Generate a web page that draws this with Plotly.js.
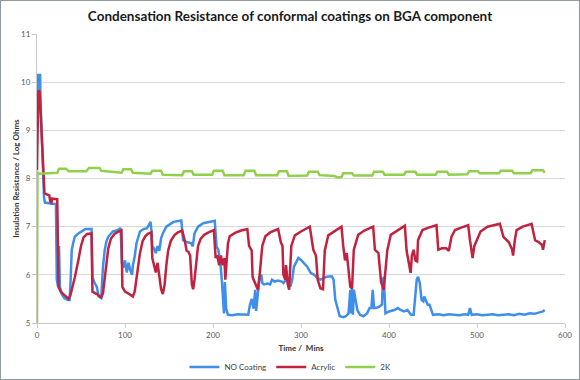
<!DOCTYPE html>
<html>
<head>
<meta charset="utf-8">
<script src="https://cdn.plot.ly/plotly-3.0.1.min.js"></script>
<style>
  html, body { margin: 0; padding: 0; background: #ffffff; }
  #wrap { position: relative; width: 580px; height: 380px; }
  #chart { width: 580px; height: 380px; }
  #frame { position: absolute; left: 0; top: 0; width: 580px; height: 380px; box-sizing: border-box;
           border: 1.5px solid #8e9b9e; pointer-events: none; }
</style>
</head>
<body>
<div id="wrap"><div id="chart"></div><div id="frame"></div></div>
<script>
// ---- data ----
const seriesNames = ["NO Coating", "Acrylic", "2K"];

const noCoatingTime = [0.5,1,3.5,4,8,9,15,21.5,22.5,24,25,26,28,31,35,37,38,39.5,41,43,47,51,55,62,63,65,68,70,73,75,77,79,81,86,92,95,96.5,98,100,102,104,106,108,109,111,113,117,121,125,127,129,130,131,133,135,137,139,141,143,147,155,164,166,170,175,177,179,183,189,202,204,206,208,210,211.5,212.5,213.5,215,217,222,228,234,240,242,244,246,248,249,251,253,255,256,258,262,265,267,270,274,278,280,283,286,288,290,292,297,300,304,307,311,315,319,322,326,329,335,337,339,342,344,348,351,354,356,357,358,359,360,362,364,367,371,375,378,380,381.5,383,385,389,392,393,394,396,400,406,410,413,417,421,425,428,430,431.5,433,435,437,439,440,442,444,446,448,450,456,462,468,474,480,486,490,492,494,500,506,512,518,524,530,536,542,548,554,560,565,570,575,577];
const noCoatingValue = [9.5,10.15,10.15,9.6,7.6,7.5,7.48,7.47,5.9,5.75,6.6,5.75,5.6,5.52,5.48,5.48,5.8,6.52,6.65,6.79,6.86,6.9,6.95,6.95,5.95,5.85,5.75,5.55,5.52,6.17,6.52,6.7,6.79,6.9,6.93,6.97,6.24,6.15,6.3,6.05,6.25,6.1,6.0,6.2,6.38,6.65,6.9,6.95,6.97,7.03,7.1,6.93,6.59,6.55,6.45,6.6,6.5,6.76,6.86,7.0,7.1,7.13,6.72,6.68,6.66,6.59,6.86,7.0,7.07,7.12,6.59,6.52,6.31,5.9,5.48,5.2,5.85,5.3,5.17,5.16,5.18,5.17,5.17,5.38,5.5,5.3,5.69,5.25,5.65,5.95,6.0,5.83,5.8,5.82,5.8,5.9,5.86,5.88,5.86,5.83,5.9,5.84,5.76,5.9,6.17,6.35,6.31,6.24,6.17,6.04,6.0,5.93,5.9,5.93,5.96,5.97,5.9,5.48,5.27,5.14,5.12,5.14,5.2,5.69,5.2,5.72,5.17,5.69,5.48,5.27,5.17,5.14,5.2,5.31,5.31,5.69,5.31,5.31,5.34,5.38,5.87,5.96,5.2,5.24,5.27,5.31,5.27,5.24,5.27,5.17,5.17,5.55,5.9,5.96,5.83,5.48,5.45,5.55,5.48,5.38,5.38,5.27,5.17,5.18,5.16,5.18,5.17,5.16,5.18,5.17,5.31,5.17,5.18,5.16,5.17,5.18,5.16,5.17,5.18,5.16,5.19,5.17,5.2,5.19,5.22,5.24,5.27];

const acrylicTime = [0,1.5,3,4,8.5,10,14,15,16.5,17,23,24.5,27,30,34,36,38,40,43,47,50,53,57,62,63,68,73,75,77,79,81,84,88,93,96,97,100,105,109,111,113,115,117,120,123,126,130,131,133,135,137,139,141,143,145,147,149,152,156,160,165,168,170,172,174,176,177.5,179,181,183,186,190,195,201,203,205,207,209,211,213,214,215,217,219,225,232,239,241,244,245,247,249,251,253,256,259.5,265,274,277,279,280,282,283,285,286.5,289,293,300,310,314,317,319,322,325,327,331,338,346,348,350,352,354,356,358,360,365,372,382,384,388,391,394,398,402,410,418,420,422,424.6,426,428,430,432,433,438,445,454,456,460,465,468,471,475,482,490,492,494,495,497,500,504,512,526,530,536,540,541,543,545,552,562,566,570,574,575,577];
const acrylicValue = [8.17,9.83,9.8,9.4,7.7,7.68,7.65,7.52,7.5,7.58,7.57,5.75,5.65,5.6,5.52,5.5,5.58,5.72,5.95,6.3,6.6,6.78,6.85,6.86,5.65,5.6,5.53,5.62,5.9,6.3,6.55,6.75,6.85,6.9,6.92,5.75,5.65,5.6,5.55,5.65,5.9,6.2,6.45,6.7,6.8,6.85,6.88,6.35,6.2,6.05,6.25,6.0,5.7,5.6,5.8,6.2,6.5,6.7,6.82,6.88,6.92,6.7,6.5,6.48,6.4,5.8,5.7,5.9,6.3,6.6,6.75,6.83,6.88,6.93,6.35,6.4,6.2,6.4,6.2,6.35,5.9,6.2,6.65,6.8,6.87,6.92,6.95,6.6,6.5,5.95,5.85,5.75,5.69,6.0,6.6,6.8,6.88,6.95,6.68,6.6,6.0,5.9,6.2,5.8,5.69,6.6,6.82,6.9,7.0,6.52,6.4,5.9,5.72,5.7,6.5,6.82,6.9,7.0,6.6,6.3,6.45,6.15,5.75,5.72,6.52,6.83,6.92,7.0,6.52,6.45,5.85,5.69,6.5,6.83,6.93,7.02,6.5,6.3,6.04,6.4,6.52,6.3,6.28,6.72,6.93,6.98,7.03,6.52,6.55,6.55,6.5,6.79,6.93,6.98,7.03,6.72,6.5,6.35,6.6,6.72,6.9,7.0,7.06,6.79,6.68,6.52,6.4,6.72,6.93,7.0,7.06,6.72,6.68,6.62,6.52,6.72];

const twoKTime = [0,0.5,2,8,20,23,25,33,36,56,59,71,73,96,98,107,109,129,131,141,143,165,167,176,178,199,201,211,213,235,237,247,249,273,275,284,286,307,309,319,321,338,342,346,348,358,360,381,383,393,395,417,419,430,432,453,455,466,468,489,491,501,503,525,527,540,542,561,563,575,577];
const twoKValue = [5.0,8.14,8.1,8.11,8.12,8.12,8.2,8.2,8.15,8.15,8.22,8.22,8.16,8.12,8.19,8.19,8.12,8.1,8.16,8.16,8.08,8.07,8.15,8.15,8.08,8.08,8.16,8.16,8.07,8.07,8.16,8.16,8.07,8.07,8.15,8.15,8.05,8.06,8.14,8.14,8.07,8.05,8.02,8.03,8.11,8.11,8.06,8.06,8.14,8.14,8.08,8.08,8.14,8.14,8.08,8.08,8.14,8.14,8.08,8.09,8.15,8.15,8.11,8.11,8.16,8.16,8.11,8.11,8.17,8.17,8.12];

const xTicks = [0, 100, 200, 300, 400, 500, 600];
const yTicks = [5, 6, 7, 8, 9, 10, 11];

// ---- chart ----
const colors = ["#3f8fea", "#c0233f", "#8fd14a"];
const traces = [
  { x: noCoatingTime, y: noCoatingValue, name: seriesNames[0] },
  { x: acrylicTime, y: acrylicValue, name: seriesNames[1] },
  { x: twoKTime, y: twoKValue, name: seriesNames[2] }
].map((t, i) => Object.assign(t, {
  type: "scatter", mode: "lines",
  line: { color: colors[i], width: 2.5 }
}));

const tickFont = { family: "Lato, 'Open Sans', sans-serif", size: 8, color: "#595959" };
const layout = {
  width: 580, height: 380,
  margin: { l: 37, r: 15, t: 34, b: 57, autoexpand: false },
  paper_bgcolor: "#ffffff", plot_bgcolor: "#ffffff",
  title: {
    text: "<b>Condensation Resistance of conformal coatings on BGA component</b>",
    font: { family: "Lato, 'Open Sans', sans-serif", size: 13.5, color: "#1a1a1a" },
    x: 0.5, xanchor: "center", y: 0.958, yanchor: "middle"
  },
  xaxis: {
    range: [0, 600], tickvals: xTicks, ticktext: xTicks.map(String),
    showgrid: false, zeroline: false, automargin: false,
    showline: true, linecolor: "#c8c8c8", linewidth: 1,
    ticks: "outside", ticklen: 4, tickcolor: "#c8c8c8",
    tickfont: tickFont,
    title: { text: "<b>Time /  Mins</b>", font: { family: "Lato, 'Open Sans', sans-serif", size: 8, color: "#333333" }, standoff: 11 }
  },
  yaxis: {
    range: [5, 11], tickvals: yTicks, ticktext: yTicks.map(String),
    showgrid: true, gridcolor: "#d9d9d9", gridwidth: 1, zeroline: false, automargin: false,
    showline: true, linecolor: "#c8c8c8", linewidth: 1,
    ticks: "outside", ticklen: 4, tickcolor: "#c8c8c8",
    tickfont: tickFont,
    title: { text: "<b>Insulation Resistance / Log Ohms</b>", font: { family: "Lato, 'Open Sans', sans-serif", size: 8, color: "#333333" }, standoff: 0 }
  },
  showlegend: true,
  legend: {
    orientation: "h", x: 0.48, xanchor: "center", yref: "container", y: 0.034, yanchor: "middle",
    font: { family: "Lato, 'Open Sans', sans-serif", size: 8, color: "#404040" },
    bgcolor: "rgba(0,0,0,0)", itemwidth: 30, tracegroupgap: 0
  }
};

Plotly.newPlot("chart", traces, layout, { staticPlot: true, displayModeBar: false });
</script>
</body>
</html>
